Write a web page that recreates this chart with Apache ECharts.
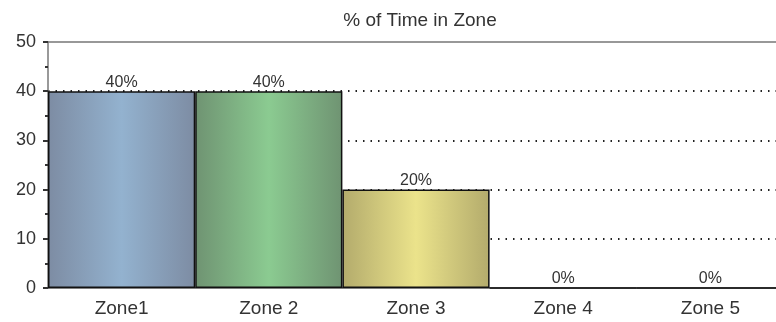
<!DOCTYPE html>
<html>
<head>
<meta charset="utf-8">
<script src="https://cdn.jsdelivr.net/npm/echarts@6/dist/echarts.min.js"></script>
<style>
  html, body { margin: 0; padding: 0; background: #fff; }
  #chart { width: 776px; height: 322px; }
</style>
</head>
<body>
<div id="chart"></div>
<script>
const categories = ['Zone1', 'Zone 2', 'Zone 3', 'Zone 4', 'Zone 5']
const timeInZone = [40, 40, 20, 0, 0]
const barColors = [
  ['#7d8ca3', '#93b2cf'],
  ['#6f9372', '#8bcb91'],
  ['#b3ab6c', '#ebe38b'],
  ['#999999', '#cccccc'],
  ['#999999', '#cccccc']
]

const chart = echarts.init(document.getElementById('chart'))

// horizontal gradient, darker at the edges
function barFill(c) {
  return new echarts.graphic.LinearGradient(0, 0, 1, 0, [
    { offset: 0, color: c[0] },
    { offset: 0.5, color: c[1] },
    { offset: 1, color: c[0] }
  ])
}

const font = 'Liberation Sans'

const option = {
  animation: false,
  title: {
    text: '% of Time in Zone',
    left: 415,
    top: 6,
    textAlign: 'center',
    textStyle: { fontFamily: font, fontSize: 19, fontWeight: 'normal', color: '#333' }
  },
  // plot runs a little past the right edge, like the original
  grid: { left: 48, width: 736, top: 42, bottom: 34, outerBoundsMode: 'none', containLabel: false },
  xAxis: [
    {
      type: 'category',
      data: categories,
      axisLine: { lineStyle: { color: '#555', width: 1.5 } },
      axisTick: { alignWithLabel: true, length: 4, lineStyle: { color: '#333', width: 2 } },
      axisLabel: { fontFamily: font, fontSize: 19, color: '#333', margin: 11 }
    },
    {
      type: 'category',
      position: 'top',
      data: categories,
      axisLine: { show: true, lineStyle: { color: '#777', width: 1.5 } },
      axisTick: { show: false },
      axisLabel: { show: false }
    }
  ],
  yAxis: {
    type: 'value',
    min: 0,
    max: 50,
    interval: 10,
    axisLine: { show: true, lineStyle: { color: '#777', width: 1.5 } },
    axisTick: { show: true, length: 5, lineStyle: { color: '#333', width: 2 } },
    minorTick: { show: true, splitNumber: 2, length: 3, lineStyle: { color: '#333', width: 2 } },
    axisLabel: { fontFamily: font, fontSize: 18, color: '#333', margin: 12 },
    splitLine: {
      showMinLine: false,
      showMaxLine: false,
      lineStyle: { color: '#222', type: [1.5, 6], width: 1.8 }
    }
  },
  series: [
    {
      type: 'bar',
      barCategoryGap: 0,
      data: timeInZone.map((v, i) => ({
        value: v,
        itemStyle: { color: barFill(barColors[i]), borderColor: '#111', borderWidth: 1.5 }
      })),
      label: {
        show: true,
        position: 'top',
        distance: 1,
        formatter: '{c}%',
        fontFamily: font,
        fontSize: 16,
        color: '#333'
      }
    }
  ]
}

chart.setOption(option)
</script>
</body>
</html>
